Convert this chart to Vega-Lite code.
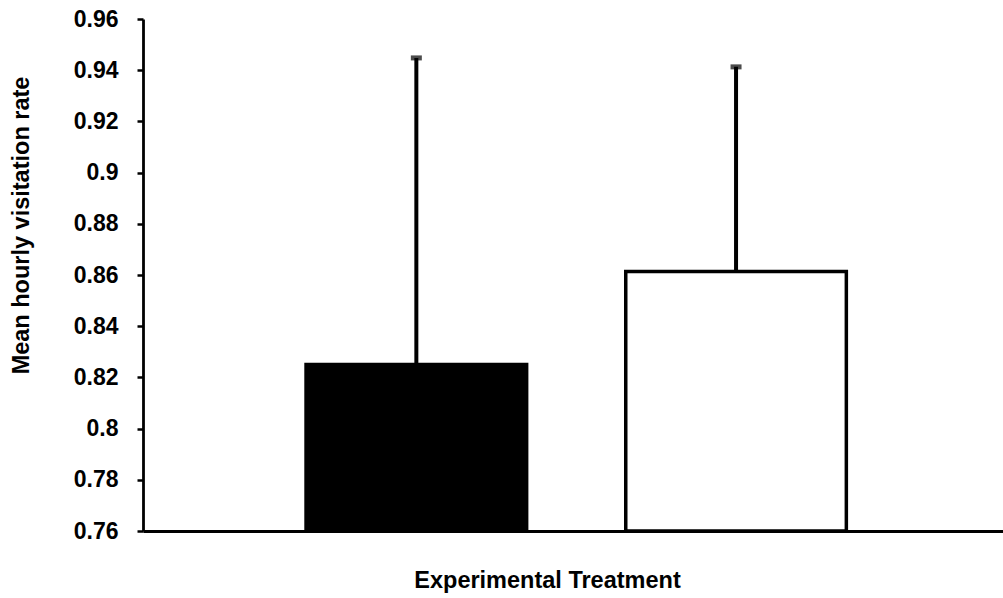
{
  "$schema": "https://vega.github.io/schema/vega-lite/v6.json",
  "width": 860,
  "height": 512,
  "autosize": {"type": "none"},
  "padding": {"left": 143, "top": 19, "right": 0, "bottom": 67},
  "background": "white",
  "config": {
    "view": {"stroke": null},
    "axis": {
      "domainColor": "black",
      "domainWidth": 2.8,
      "tickColor": "black",
      "tickWidth": 2.5,
      "grid": false,
      "labelFont": "Liberation Sans",
      "labelFontWeight": "bold",
      "labelColor": "black",
      "titleFont": "Liberation Sans",
      "titleFontWeight": "bold",
      "titleColor": "black"
    }
  },
  "data": {
    "values": [
      {"treatment": "Control", "mean": 0.825, "upper": 0.9448},
      {"treatment": "Experimental", "mean": 0.8614, "upper": 0.9413}
    ]
  },
  "encoding": {
    "x": {
      "field": "treatment",
      "type": "nominal",
      "sort": null,
      "scale": {"paddingInner": 0.31, "paddingOuter": 0.5, "align": 0.51},
      "axis": {
        "labels": false,
        "ticks": false,
        "title": "Experimental Treatment",
        "titleFontSize": 23.5,
        "titleX": 404,
        "titleY": 49,
        "titleAlign": "center",
        "titleBaseline": "middle"
      }
    }
  },
  "layer": [
    {
      "mark": {"type": "bar", "stroke": "black", "strokeWidth": 3.5},
      "encoding": {
        "y": {
          "field": "mean",
          "type": "quantitative",
          "scale": {"domain": [0.76, 0.96], "zero": false, "nice": false},
          "axis": {
            "values": [0.76, 0.78, 0.8, 0.82, 0.84, 0.86, 0.88, 0.9, 0.92, 0.94, 0.96],
            "format": "~g",
            "tickSize": 6,
            "labelPadding": 19,
            "labelFontSize": 23,
            "title": "Mean hourly visitation rate",
            "titleFontSize": 23.5,
            "titleAngle": -90,
            "titleX": -122,
            "titleY": 206,
            "titleAlign": "center",
            "titleBaseline": "middle"
          }
        },
        "y2": {"datum": 0.76},
        "fill": {
          "field": "treatment",
          "type": "nominal",
          "scale": {"range": ["black", "white"]},
          "legend": null
        }
      }
    },
    {
      "mark": {"type": "rule", "strokeWidth": 4, "color": "black"},
      "encoding": {
        "y": {"field": "mean", "type": "quantitative"},
        "y2": {"field": "upper"}
      }
    },
    {
      "mark": {"type": "tick", "thickness": 5, "size": 11, "color": "black"},
      "encoding": {
        "y": {"field": "upper", "type": "quantitative"}
      }
    }
  ]
}
